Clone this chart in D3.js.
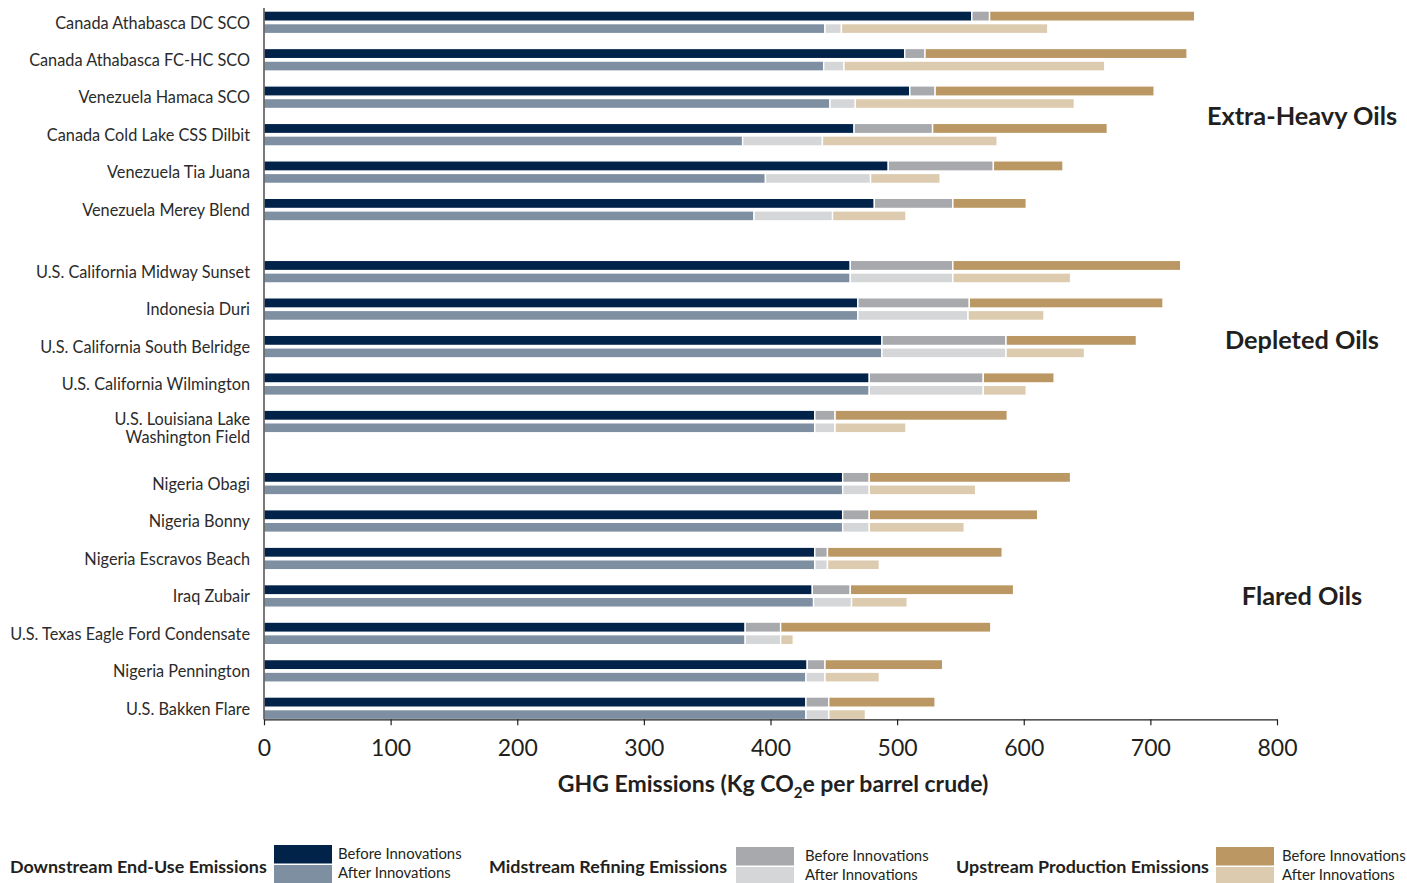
<!DOCTYPE html>
<html>
<head>
<meta charset="utf-8">
<script src="https://cdn.jsdelivr.net/npm/d3@7"></script>
<style>
  body { margin: 0; background: #fff; }
  svg { display: block; font-family: Lato, "Open Sans", sans-serif; }
</style>
</head>
<body>
<div class="svg"></div>
<script>
var crudes = [
  "Canada Athabasca DC SCO", "Canada Athabasca FC-HC SCO", "Venezuela Hamaca SCO",
  "Canada Cold Lake CSS Dilbit", "Venezuela Tia Juana", "Venezuela Merey Blend",
  "U.S. California Midway Sunset", "Indonesia Duri", "U.S. California South Belridge",
  "U.S. California Wilmington", "U.S. Louisiana Lake|Washington Field",
  "Nigeria Obagi", "Nigeria Bonny", "Nigeria Escravos Beach", "Iraq Zubair",
  "U.S. Texas Eagle Ford Condensate", "Nigeria Pennington", "U.S. Bakken Flare"
];
var groupOf = [0,0,0,0,0,0, 1,1,1,1,1, 2,2,2,2,2,2,2];
var groupNames = ["Extra-Heavy Oils", "Depleted Oils", "Flared Oils"];

// kg CO2e per barrel, before innovations
var downBefore = [559, 506, 510, 466, 493, 482, 463, 469, 488, 478, 435, 457, 457, 435, 433, 380, 429, 428];
var midBefore  = [14, 16, 20, 62, 83, 62, 81, 88, 98, 90, 16, 21, 21, 10, 30, 28, 14, 18];
var upBefore   = [162, 207, 173, 138, 55, 58, 180, 153, 103, 56, 136, 159, 133, 138, 129, 166, 93, 84];
// after innovations
var downAfter  = [443, 442, 447, 378, 396, 387, 463, 469, 488, 478, 435, 457, 457, 435, 434, 380, 428, 428];
var midAfter   = [13, 16, 20, 63, 83, 62, 81, 87, 98, 90, 16, 21, 21, 10, 30, 28, 15, 18];
var upAfter    = [163, 206, 173, 138, 55, 58, 93, 60, 62, 34, 56, 84, 75, 41, 44, 10, 43, 29];

var xTicks = [0, 100, 200, 300, 400, 500, 600, 700, 800];

var colors = {
  before: ["#012349", "#a7a9ac", "#bb9764"],
  after:  ["#7e8fa2", "#d5d6d8", "#ddcbb0"]
};
var legendNames = ["Downstream End-Use Emissions", "Midstream Refining Emissions", "Upstream Production Emissions"];

var width = 1407, height = 883;
var svg = d3.select("div.svg").append("svg")
  .attr("width", width).attr("height", height);

var x = d3.scaleLinear().domain([0, 800]).range([264, 1277]);

// row position with extra space between groups
var gapRows = 0.657;
var pos = crudes.map(function(d, i){ return i + groupOf[i] * gapRows; });
var y = d3.scaleLinear().domain([0, 17 + 2 * gapRows]).range([11.3, 697.3]);

var rows = crudes.map(function(name, i){
  var b = [downBefore[i], midBefore[i], upBefore[i]];
  var a = [downAfter[i], midAfter[i], upAfter[i]];
  return { name: name, top: y(pos[i]), before: b, after: a };
});

function segs(vals, cols){
  var acc = 0;
  return vals.map(function(v, k){
    var s = { x0: acc, x1: acc + v, color: cols[k] };
    acc += v;
    return s;
  });
}

var g = svg.append("g");

var row = g.selectAll("g.row").data(rows).enter().append("g")
  .attr("class", "row")
  .attr("transform", function(d){ return "translate(0," + d.top + ")"; });

row.selectAll("rect.b").data(function(d){ return segs(d.before, colors.before); })
  .enter().append("rect").attr("class", "b")
  .attr("x", function(d){ return x(d.x0); })
  .attr("width", function(d){ return x(d.x1) - x(d.x0); })
  .attr("y", -0.3).attr("height", 10.2)
  .attr("fill", function(d){ return d.color; })
  .attr("stroke", "#fff").attr("stroke-width", 1.4);

row.selectAll("rect.a").data(function(d){ return segs(d.after, colors.after); })
  .enter().append("rect").attr("class", "a")
  .attr("x", function(d){ return x(d.x0); })
  .attr("width", function(d){ return x(d.x1) - x(d.x0); })
  .attr("y", 12.3).attr("height", 10)
  .attr("fill", function(d){ return d.color; })
  .attr("stroke", "#fff").attr("stroke-width", 1.4);

// category labels
row.append("text")
  .attr("x", 250)
  .attr("text-anchor", "end")
  .attr("font-size", 16.3)
  .attr("fill", "#2b2b2b")
  .each(function(d){
    var lines = d.name.split("|");
    var t = d3.select(this);
    if (lines.length === 1) {
      t.attr("y", 11.5).attr("dy", "0.35em").text(lines[0]);
    } else {
      t.append("tspan").attr("x", 250).attr("y", 9).attr("dy", "0.35em").text(lines[0]);
      t.append("tspan").attr("x", 250).attr("y", 27).attr("dy", "0.35em").text(lines[1]);
    }
  });

// y axis line
g.append("line")
  .attr("x1", 264).attr("x2", 264)
  .attr("y1", 8).attr("y2", 719.5)
  .attr("stroke", "#231f20").attr("stroke-width", 1.2);

// x axis
var xAxis = d3.axisBottom(x).tickValues(xTicks).tickSize(6).tickSizeOuter(0).tickPadding(14);
var ax = g.append("g")
  .attr("transform", "translate(0,719.3)")
  .call(xAxis);
ax.select(".domain").attr("stroke", "#231f20").attr("stroke-width", 1.3);
ax.selectAll(".tick line").attr("stroke", "#231f20").attr("stroke-width", 1.2);
ax.selectAll(".tick text")
  .attr("font-family", "Lato, sans-serif")
  .attr("font-size", 23)
  .attr("font-weight", 400)
  .attr("fill", "#231f20");

// axis title
var title = g.append("text")
  .attr("x", 773).attr("y", 792)
  .attr("text-anchor", "middle")
  .attr("font-size", 23).attr("font-weight", 700)
  .attr("fill", "#231f20");
title.append("tspan").text("GHG Emissions (Kg CO");
title.append("tspan").attr("font-size", 15).attr("dy", 6).text("2");
title.append("tspan").attr("dy", -6).text("e per barrel crude)");

// group titles
var groupY = [116, 340, 596];
g.selectAll("text.group").data(groupNames).enter().append("text")
  .attr("class", "group")
  .attr("x", 1302)
  .attr("y", function(d, i){ return groupY[i]; })
  .attr("dy", "0.35em")
  .attr("text-anchor", "middle")
  .attr("font-size", 25.3).attr("font-weight", 700)
  .attr("fill", "#231f20")
  .text(function(d){ return d; });

// legend
var legendX = [10, 489, 956];
var swatchX = [274, 736, 1216];
var swatchY = [845, 847, 847];
var labelX = [338, 805, 1282];
var leg = g.selectAll("g.legend").data(legendNames).enter().append("g").attr("class", "legend");
leg.append("text")
  .attr("x", function(d, i){ return legendX[i]; })
  .attr("y", 867).attr("dy", "0.35em")
  .attr("font-size", 17.9).attr("font-weight", 700)
  .attr("fill", "#231f20")
  .text(function(d){ return d; });
leg.append("rect")
  .attr("x", function(d, i){ return swatchX[i]; })
  .attr("y", function(d, i){ return swatchY[i]; })
  .attr("width", 58).attr("height", 18.5)
  .attr("fill", function(d, i){ return colors.before[i]; });
leg.append("rect")
  .attr("x", function(d, i){ return swatchX[i]; })
  .attr("y", function(d, i){ return swatchY[i] + 20; })
  .attr("width", 58).attr("height", 18.5)
  .attr("fill", function(d, i){ return colors.after[i]; });
leg.append("text")
  .attr("x", function(d, i){ return labelX[i]; })
  .attr("y", function(d, i){ return swatchY[i] + 9; })
  .attr("dy", "0.35em")
  .attr("font-size", 14.9).attr("fill", "#231f20")
  .text("Before Innovations");
leg.append("text")
  .attr("x", function(d, i){ return labelX[i]; })
  .attr("y", function(d, i){ return swatchY[i] + 27.5; })
  .attr("dy", "0.35em")
  .attr("font-size", 14.9).attr("fill", "#231f20")
  .text("After Innovations");
</script>
</body>
</html>
